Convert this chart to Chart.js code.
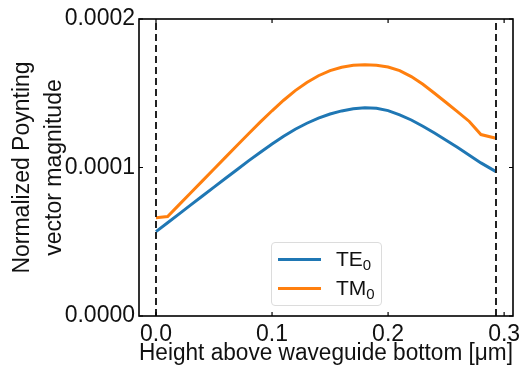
<!DOCTYPE html>
<html>
<head>
<meta charset="utf-8">
<script src="https://cdn.jsdelivr.net/npm/chart.js@4.4.1/dist/chart.umd.min.js"></script>
<style>
    body { margin: 0; background: #fff; }
    #wrap { position: relative; width: 526px; height: 372px; }
    #legend {
        position: absolute; left: 271px; top: 242px; width: 109px; height: 62px;
        border: 1px solid #dcdcdc; border-radius: 4px; background: rgba(255,255,255,0.8);
        font-family: "Liberation Sans", Arial, sans-serif; font-size: 21px; color: #111;
    }
    .row { position: absolute; left: 6px; height: 24px; }
    .row .ln { position: absolute; left: 0; top: 11px; width: 43px; height: 3px; }
    .row .tx { position: absolute; left: 58px; top: 0; line-height: 24px; white-space: nowrap; }
    .row sub { font-size: 15px; vertical-align: -4px; }
</style>
</head>
<body>
<div id="wrap">
    <canvas id="lineChart" width="526" height="372"></canvas>
    <div id="legend"></div>
</div>
<script>
// heights above waveguide bottom [um]
var alturas = [0, 0.01, 0.02, 0.03, 0.04, 0.05, 0.06, 0.07, 0.08, 0.09, 0.10,
    0.11, 0.12, 0.13, 0.14, 0.15, 0.16, 0.17, 0.18, 0.19, 0.20,
    0.21, 0.22, 0.23, 0.24, 0.25, 0.26, 0.27, 0.28, 0.293];
// values x 1e-4
var valoresTE = [0.568, 0.628, 0.688, 0.748, 0.808, 0.868, 0.928, 0.987, 1.046, 1.103, 1.158,
    1.210, 1.258, 1.298, 1.332, 1.360, 1.381, 1.396, 1.403, 1.399, 1.383,
    1.355, 1.320, 1.278, 1.232, 1.184, 1.134, 1.083, 1.031, 0.972];
var valoresTM = [0.662, 0.670, 0.750, 0.830, 0.910, 0.990, 1.070, 1.150, 1.229, 1.307, 1.382,
    1.453, 1.518, 1.573, 1.618, 1.652, 1.675, 1.688, 1.692, 1.689, 1.677,
    1.652, 1.612, 1.560, 1.500, 1.438, 1.375, 1.310, 1.222, 1.197];
var nomesSeries = ['TE', 'TM'];
var coresSeries = ['#1f77b4', '#ff7f0e'];
var limitesGuia = [0, 0.293];
var ticksX = [0, 0.1, 0.2, 0.3];
var ticksY = [0, 0.0001, 0.0002];

function MontarPontos(xs, ys) {
    var pts = [];
    for (var i = 0; i < xs.length; i++) {
        pts.push({ x: xs[i], y: ys[i] * 1e-4 });
    }
    return pts;
}

var fonte = '"Liberation Sans", Arial, sans-serif';

var datasets = [];
for (var k = 0; k < limitesGuia.length; k++) {
    datasets.push({
        label: 'guia' + k,
        data: [{ x: limitesGuia[k], y: 0 }, { x: limitesGuia[k], y: 0.0002 }],
        borderColor: '#222',
        borderWidth: 2,
        borderDash: [7, 4],
        pointRadius: 0,
        fill: false
    });
}
var serieVals = [valoresTE, valoresTM];
for (var s = 0; s < nomesSeries.length; s++) {
    datasets.push({
        label: nomesSeries[s] + '\u2080',
        data: MontarPontos(alturas, serieVals[s]),
        borderColor: coresSeries[s],
        borderWidth: 3,
        pointRadius: 0,
        tension: 0,
        fill: false
    });
}

// frame + inward ticks on all four sides
var moldura = {
    id: 'moldura',
    afterDraw: function (chart) {
        var ctx = chart.ctx, a = chart.chartArea;
        var xs = chart.scales.x, ys = chart.scales.y;
        ctx.save();
        ctx.strokeStyle = '#000';
        ctx.lineWidth = 1.6;
        ctx.strokeRect(a.left, a.top, a.right - a.left, a.bottom - a.top);
        ctx.lineWidth = 1.2;
        ctx.beginPath();
        for (var i = 0; i < ticksX.length; i++) {
            var px = xs.getPixelForValue(ticksX[i]);
            ctx.moveTo(px, a.bottom); ctx.lineTo(px, a.bottom - 4);
            ctx.moveTo(px, a.top); ctx.lineTo(px, a.top + 4);
        }
        for (var j = 0; j < ticksY.length; j++) {
            var py = ys.getPixelForValue(ticksY[j]);
            ctx.moveTo(a.left, py); ctx.lineTo(a.left + 4, py);
            ctx.moveTo(a.right, py); ctx.lineTo(a.right - 4, py);
        }
        ctx.stroke();
        ctx.restore();
    }
};

var lineChart = new Chart(document.getElementById('lineChart').getContext('2d'), {
    type: 'line',
    data: { datasets: datasets },
    options: {
        responsive: false,
        animation: false,
        layout: { padding: { top: 19, right: 13, left: 0, bottom: 0 } },
        plugins: { legend: { display: false }, tooltip: { enabled: false } },
        scales: {
            x: {
                type: 'linear',
                min: -0.01465,
                max: 0.30765,
                grid: { display: false, drawTicks: false },
                border: { display: false },
                afterBuildTicks: function (scale) {
                    scale.ticks = ticksX.map(function (v) { return { value: v }; });
                },
                afterFit: function (scale) { scale.height = 56; },
                ticks: {
                    padding: 5,
                    color: '#111',
                    font: { family: fonte, size: 23 },
                    maxRotation: 0,
                    callback: function (v) { return v.toFixed(1); }
                },
                title: {
                    display: true,
                    text: 'Height above waveguide bottom [\u03bcm]',
                    color: '#111',
                    font: { family: fonte, size: 23, lineHeight: 1.2 },
                    padding: { top: 0, bottom: 5 }
                }
            },
            y: {
                min: 0,
                max: 0.0002,
                grid: { display: false, drawTicks: false },
                border: { display: false },
                afterBuildTicks: function (scale) {
                    scale.ticks = ticksY.map(function (v) { return { value: v }; });
                },
                afterFit: function (scale) { scale.width = 139; },
                ticks: {
                    padding: 4,
                    color: '#111',
                    font: { family: fonte, size: 23 },
                    callback: function (v) { return v.toFixed(4); }
                },
                title: {
                    display: true,
                    text: ['Normalized Poynting', 'vector magnitude'],
                    color: '#111',
                    font: { family: fonte, size: 23, lineHeight: 1.39 },
                    padding: { top: 7, bottom: 0 }
                }
            }
        }
    },
    plugins: [moldura]
});

// legend in html, from the same names and colours
var leg = document.getElementById('legend');
for (var n = 0; n < nomesSeries.length; n++) {
    var row = document.createElement('div');
    row.className = 'row';
    row.style.top = (4 + n * 29) + 'px';
    row.innerHTML = '<div class="ln" style="background:' + coresSeries[n] + '"></div>' +
        '<div class="tx">' + nomesSeries[n] + '<sub>0</sub></div>';
    leg.appendChild(row);
}
</script>
</body>
</html>
